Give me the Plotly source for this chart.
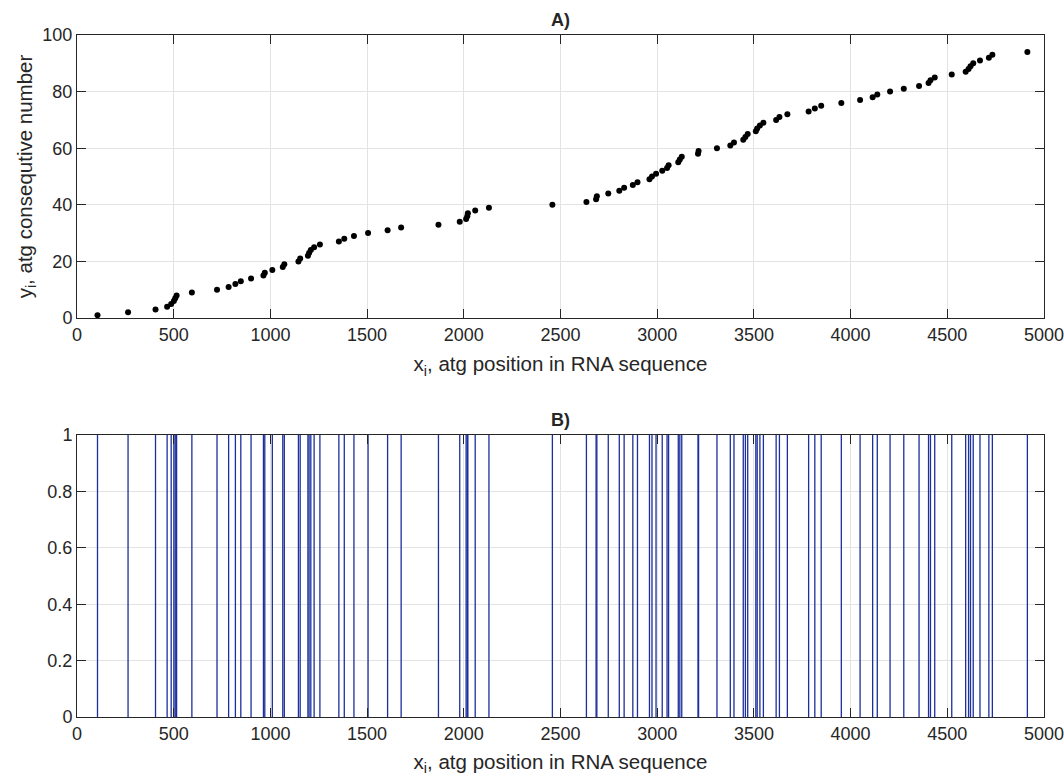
import plotly.graph_objects as go

# atg positions (x_i) and consecutive numbers (y_i)
atg_positions = [
    106, 264, 406, 466, 487, 501, 508, 515, 594, 724,
    784, 819, 847, 900, 964, 971, 1010, 1064, 1072, 1145,
    1154, 1194, 1200, 1209, 1226, 1256, 1354, 1382, 1432, 1505,
    1606, 1676, 1869, 1979, 2012, 2018, 2021, 2059, 2130, 2458,
    2634, 2684, 2688, 2747, 2804, 2829, 2874, 2898, 2960, 2973,
    2994, 3026, 3051, 3059, 3109, 3117, 3127, 3211, 3214, 3309,
    3378, 3397, 3445, 3456, 3468, 3510, 3517, 3531, 3549, 3615,
    3632, 3673, 3783, 3815, 3848, 3952, 4049, 4114, 4138, 4204,
    4275, 4354, 4403, 4413, 4435, 4523, 4595, 4610, 4620, 4634,
    4669, 4715, 4733, 4914,
]
consecutive_numbers = list(range(1, len(atg_positions) + 1))

x_ticks = [0, 500, 1000, 1500, 2000, 2500, 3000, 3500, 4000, 4500, 5000]
y_ticks_a = [0, 20, 40, 60, 80, 100]
y_ticks_b = [0, 0.2, 0.4, 0.6, 0.8, 1]
title_a = "A)"
title_b = "B)"
x_title = "x<sub>i</sub>, atg position in RNA sequence"
y_title_a = "y<sub>i</sub>, atg consequtive number"

# build vertical-line trace for panel B from the positions
line_x, line_y = [], []
for p in atg_positions:
    line_x += [p, p, None]
    line_y += [0, 1, None]

FONT = "Arial, Liberation Sans, Helvetica, sans-serif"
TXT = "#262626"
GRID = "#e3e3e3"
TICK_SIZE = 18
TITLE_SIZE = 20.5

fig = go.Figure()
fig.add_trace(go.Scatter(
    x=atg_positions, y=consecutive_numbers, mode="markers",
    marker=dict(color="black", size=6), xaxis="x", yaxis="y",
    showlegend=False, hoverinfo="x+y"))
fig.add_trace(go.Scatter(
    x=line_x, y=line_y, mode="lines",
    line=dict(color="#1c2f9c", width=1.3), xaxis="x2", yaxis="y2",
    showlegend=False))

axis_common = dict(
    showline=True, linecolor=TXT, linewidth=1, mirror="ticks",
    ticks="inside", ticklen=9, tickcolor=TXT, tickwidth=1,
    showgrid=True, gridcolor=GRID, gridwidth=1, zeroline=False,
    tickfont=dict(family=FONT, size=TICK_SIZE, color=TXT),
    automargin=False, ticklabeloverflow="allow",
)

fig.update_layout(
    width=1064, height=776,
    margin=dict(l=77, r=20, t=35, b=59),
    paper_bgcolor="white", plot_bgcolor="white",
    font=dict(family=FONT, color=TXT),
    xaxis=dict(domain=[0, 1], range=[0, 5000], tickvals=x_ticks, anchor="y",
               title=dict(text=x_title, font=dict(family=FONT, size=TITLE_SIZE, color=TXT), standoff=13),
               **axis_common),
    yaxis=dict(domain=[0.585, 1.0], range=[0, 100], tickvals=y_ticks_a, anchor="x",
               title=dict(text=y_title_a, font=dict(family=FONT, size=TITLE_SIZE, color=TXT), standoff=4),
               **axis_common),
    xaxis2=dict(domain=[0, 1], range=[0, 5000], tickvals=x_ticks, anchor="y2",
                title=dict(text=x_title, font=dict(family=FONT, size=TITLE_SIZE, color=TXT), standoff=13),
                **axis_common),
    yaxis2=dict(domain=[0, 0.4135], range=[0, 1], tickvals=y_ticks_b, anchor="x2",
                **axis_common),
    annotations=[
        dict(text="<b>" + title_a + "</b>", x=0.5, y=1.0, xref="paper", yref="paper",
             xanchor="center", yanchor="bottom", yshift=3, showarrow=False,
             font=dict(family=FONT, size=18, color=TXT)),
        dict(text="<b>" + title_b + "</b>", x=0.5, y=0.4135, xref="paper", yref="paper",
             xanchor="center", yanchor="bottom", yshift=3, showarrow=False,
             font=dict(family=FONT, size=18, color=TXT)),
    ],
)

fig.write_html("out.html")
